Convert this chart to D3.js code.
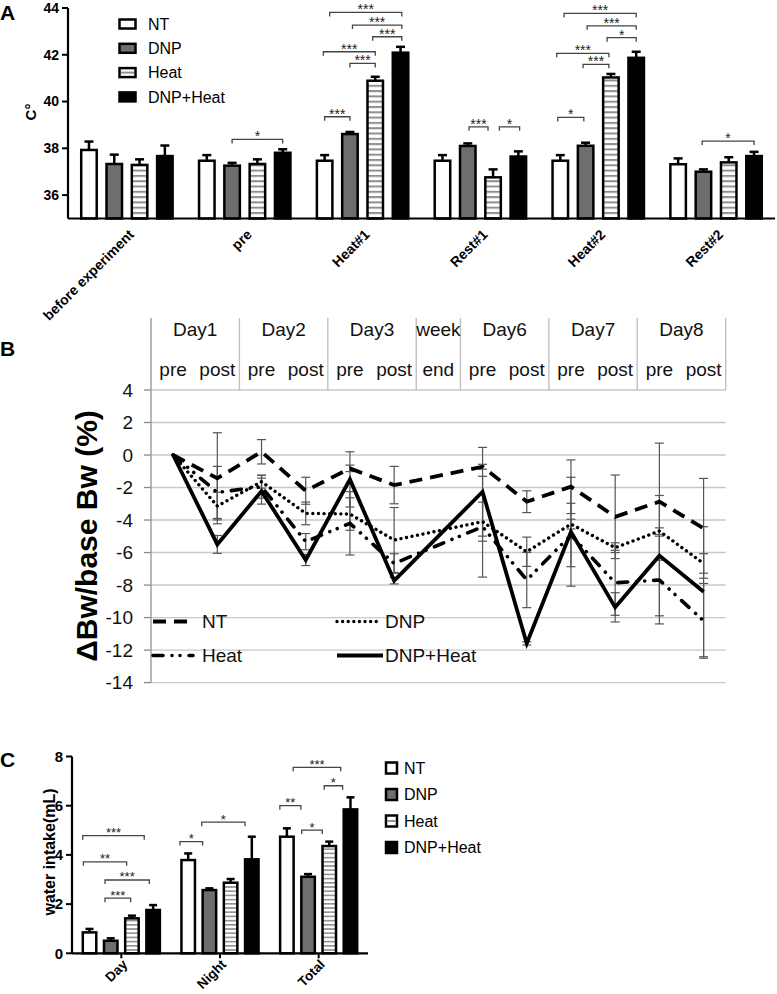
<!DOCTYPE html>
<html><head><meta charset="utf-8">
<script src="https://cdn.jsdelivr.net/npm/d3@7"></script>
<style>body{margin:0;background:#fff}svg{display:block}text{font-family:"Liberation Sans",Arial,sans-serif}</style>
</head><body><svg id="c" width="777" height="994"></svg>
<script>
// ---------- DATA ----------
const seriesNames = ["NT", "DNP", "Heat", "DNP+Heat"];

// Panel A: body temperature (C°)
const tempGroups = ["before experiment", "pre", "Heat#1", "Rest#1", "Heat#2", "Rest#2"];
const tempNT = [37.93, 37.47, 37.47, 37.47, 37.47, 37.32];
const tempNTErr = [0.36, 0.24, 0.24, 0.24, 0.24, 0.25];
const tempDNP = [37.33, 37.26, 38.61, 38.10, 38.11, 37.00];
const tempDNPErr = [0.4, 0.12, 0.09, 0.11, 0.13, 0.10];
const tempHeat = [37.29, 37.33, 40.89, 36.76, 41.03, 37.40];
const tempHeatErr = [0.24, 0.20, 0.17, 0.34, 0.15, 0.22];
const tempDH = [37.67, 37.81, 42.09, 37.65, 41.87, 37.67];
const tempDHErr = [0.45, 0.15, 0.25, 0.22, 0.26, 0.18];
const tempTicks = [36, 38, 40, 42, 44];
// significance brackets: group, from bar, to bar (bar index, fractional), level (C°), label
const tempSig = [
  {g: "pre", a: 1.0, b: 3.0, y: 38.38, t: "*"},
  {g: "Heat#1", a: 0.0, b: 1.0, y: 39.35, t: "***"},
  {g: "Heat#1", a: 1.0, b: 2.0, y: 41.63, t: "***"},
  {g: "Heat#1", a: -0.05, b: 2.0, y: 42.13, t: "***"},
  {g: "Heat#1", a: 1.9, b: 3.05, y: 42.77, t: "***"},
  {g: "Heat#1", a: 1.1, b: 3.05, y: 43.27, t: "***"},
  {g: "Heat#1", a: 0.2, b: 3.05, y: 43.81, t: "***"},
  {g: "Rest#1", a: 1.05, b: 1.8, y: 38.92, t: "***"},
  {g: "Rest#1", a: 2.25, b: 3.05, y: 38.92, t: "*"},
  {g: "Heat#2", a: -0.1, b: 0.93, y: 39.32, t: "*"},
  {g: "Heat#2", a: 0.9, b: 1.92, y: 41.59, t: "***"},
  {g: "Heat#2", a: -0.14, b: 1.92, y: 42.06, t: "***"},
  {g: "Heat#2", a: 1.85, b: 3.0, y: 42.73, t: "*"},
  {g: "Heat#2", a: 1.06, b: 3.0, y: 43.24, t: "***"},
  {g: "Heat#2", a: 0.15, b: 3.0, y: 43.77, t: "***"},
  {g: "Rest#2", a: 0.95, b: 3.0, y: 38.31, t: "*"}
];

// Panel B: body-weight change (%)
const dayLabels = ["Day1", "Day2", "Day3", "week", "Day6", "Day7", "Day8"];
const daySubLabels = [["pre", "post"], ["pre", "post"], ["pre", "post"], ["end"], ["pre", "post"], ["pre", "post"], ["pre", "post"]];
const bwSlot = [0, 1, 2, 3, 4, 5, 7, 8, 9, 10, 11, 12];
const bwNT = [0, -1.43, 0.2, -2.2, -0.82, -1.85, -0.72, -2.87, -1.95, -3.8, -2.87, -4.51];
const bwNTErr = [0, 2.8, 0.75, 0.83, 0.2, 1.15, 0.15, 0.67, 1.65, 2.57, 3.6, 3.07];
const bwDNP = [0, -3.14, -1.64, -3.59, -3.63, -5.23, -4.10, -5.95, -4.25, -5.70, -4.68, -6.67];
const bwDNPErr = [0, 0.85, 0.4, 0.7, 1.0, 2.0, 1.2, 0.9, 0.3, 0.3, 0.2, 0.6];
const bwHeat = [0, -2.3, -1.95, -5.33, -4.2, -6.67, -4.41, -7.69, -4.92, -7.86, -7.69, -10.2];
const bwHeatErr = [0, 1.6, 0.7, 0.5, 1.95, 0.6, 3.1, 1.7, 1.95, 2.0, 2.7, 2.3];
const bwDH = [0, -5.5, -2.22, -6.46, -1.5, -7.73, -2.26, -11.59, -4.72, -9.37, -6.19, -8.41];
const bwDHErr = [0, 0.55, 0.8, 0.34, 1.7, 0.2, 2.73, 0.1, 3.35, 0.9, 3.7, 4.0];
const bwTicks = [-14, -12, -10, -8, -6, -4, -2, 0, 2, 4];

// Panel C: water intake (mL)
const waterGroups = ["Day", "Night", "Total"];
const waterNT = [0.85, 3.79, 4.74];
const waterNTErr = [0.14, 0.27, 0.34];
const waterDNP = [0.51, 2.57, 3.11];
const waterDNPErr = [0.10, 0.07, 0.11];
const waterHeat = [1.42, 2.87, 4.36];
const waterHeatErr = [0.11, 0.15, 0.18];
const waterDH = [1.76, 3.82, 5.85];
const waterDHErr = [0.20, 0.92, 0.49];
const waterTicks = [0, 2, 4, 6, 8];
const waterSig = [
  {g: "Day", a: -0.32, b: 2.58, y: 4.78, t: "***"},
  {g: "Day", a: -0.29, b: 1.75, y: 3.72, t: "**"},
  {g: "Day", a: 0.73, b: 2.82, y: 2.98, t: "***"},
  {g: "Day", a: 0.73, b: 1.94, y: 2.24, t: "***"},
  {g: "Night", a: -0.39, b: 0.68, y: 4.54, t: "*"},
  {g: "Night", a: 0.64, b: 2.68, y: 5.33, t: "*"},
  {g: "Total", a: -0.33, b: 0.66, y: 6.0, t: "**"},
  {g: "Total", a: 0.3, b: 2.54, y: 7.56, t: "***"},
  {g: "Total", a: 1.76, b: 2.63, y: 6.81, t: "*"},
  {g: "Total", a: 0.7, b: 1.67, y: 5.01, t: "*"}
];

// ---------- DRAWING ----------
const svg = d3.select("#c");
const defs = svg.append("defs");
function stripes(id, h) {
  const p = defs.append("pattern").attr("id", id).attr("patternUnits", "userSpaceOnUse")
    .attr("width", 10).attr("height", h);
  p.append("rect").attr("width", 10).attr("height", h).attr("fill", "#fff");
  p.append("rect").attr("width", 10).attr("height", h * 0.38).attr("fill", "#8f8f8f");
}
stripes("stA", 5.3);
stripes("stC", 4.2);
const fillsA = ["#fff", "#6e6e6e", "url(#stA)", "#000"];
const fillsC = ["#fff", "#6e6e6e", "url(#stC)", "#000"];

function barPanel(g, o) {
  const x = d3.scaleBand().domain(o.groups).range(o.xr).padding(0);
  const y = d3.scaleLinear().domain(o.yd).range(o.yr);
  const cx = (gr, i) => x(gr) + x.bandwidth() / 2 + (i - 1.5) * o.step;
  // error bars
  o.series.forEach((vals, si) => {
    vals.forEach((v, gi) => {
      const c = cx(o.groups[gi], si), e = o.errs[si][gi];
      g.append("line").attr("x1", c).attr("x2", c).attr("y1", y(v)).attr("y2", y(v + e))
        .attr("stroke", "#000").attr("stroke-width", 2.5);
      g.append("line").attr("x1", c - o.cap).attr("x2", c + o.cap).attr("y1", y(v + e)).attr("y2", y(v + e))
        .attr("stroke", "#000").attr("stroke-width", 2.5);
    });
  });
  // bars
  o.series.forEach((vals, si) => {
    g.selectAll(null).data(vals).enter().append("rect")
      .attr("x", (v, gi) => cx(o.groups[gi], si) - o.bw / 2)
      .attr("y", v => y(v))
      .attr("width", o.bw)
      .attr("height", v => y(o.yd[0]) - y(v))
      .attr("fill", o.fills[si]).attr("stroke", "#000").attr("stroke-width", o.sw);
  });
  // axes
  g.append("line").attr("x1", o.xr[0]).attr("x2", o.xr[0]).attr("y1", y(o.yd[1])).attr("y2", y(o.yd[0]))
    .attr("stroke", "#000").attr("stroke-width", 2.2);
  g.append("line").attr("x1", o.xr[0]).attr("x2", o.xr[1]).attr("y1", y(o.yd[0])).attr("y2", y(o.yd[0]))
    .attr("stroke", "#000").attr("stroke-width", 2.2);
  o.ticks.forEach(t => {
    g.append("line").attr("x1", o.xr[0] - 6).attr("x2", o.xr[0]).attr("y1", y(t)).attr("y2", y(t))
      .attr("stroke", "#000").attr("stroke-width", 2);
    g.append("text").attr("x", o.xr[0] - 9).attr("y", y(t)).attr("dy", "0.35em")
      .attr("text-anchor", "end").attr("font-size", o.tickFs).attr("font-weight", "bold").text(t);
  });
  if (o.groupTicks) {
    o.groups.forEach(gr => {
      const c = x(gr) + x.bandwidth() / 2;
      g.append("line").attr("x1", c).attr("x2", c).attr("y1", y(o.yd[0])).attr("y2", y(o.yd[0]) + 5)
        .attr("stroke", "#000").attr("stroke-width", 2);
    });
  }
  o.groups.forEach(gr => {
    const c = x(gr) + x.bandwidth() / 2 + o.lblDx;
    g.append("text").attr("transform", `translate(${c},${y(o.yd[0]) + o.lblDy}) rotate(-45)`)
      .attr("text-anchor", "end").attr("font-size", o.lblFs).attr("font-weight", "bold").text(gr);
  });
  // significance
  o.sig.forEach(s => {
    const x1 = cx(s.g, s.a), x2 = cx(s.g, s.b), py = y(s.y);
    g.append("path").attr("d", `M${x1},${py + o.tick}V${py}H${x2}V${py + o.tick}`)
      .attr("fill", "none").attr("stroke", "#444").attr("stroke-width", 1.3);
    g.append("text").attr("x", (x1 + x2) / 2).attr("y", py + o.starDy).attr("text-anchor", "middle")
      .attr("font-size", o.starFs).attr("fill", "#222").text(s.t);
  });
  return {x, y};
}

// Panel A
const gA = svg.append("g");
barPanel(gA, {
  groups: tempGroups, xr: [68, 775], yd: [35, 44], yr: [218.5, 8],
  series: [tempNT, tempDNP, tempHeat, tempDH], errs: [tempNTErr, tempDNPErr, tempHeatErr, tempDHErr],
  fills: fillsA, step: 25.3, bw: 15.5, cap: 4.5, sw: 2.5, ticks: tempTicks, tickFs: 14,
  lblDx: 8, lblDy: 17, lblFs: 14, sig: tempSig, tick: 4, starDy: 2, starFs: 14, groupTicks: false
});
svg.append("text").attr("x", 0).attr("y", 20).attr("font-size", 21).attr("font-weight", "bold").text("A");
svg.append("text").attr("transform", "translate(36,112) rotate(-90)").attr("text-anchor", "middle")
  .attr("font-size", 15).attr("font-weight", "bold").text("C°");
// legend A
seriesNames.forEach((n, i) => {
  const yy = 24 + i * 24.3;
  svg.append("rect").attr("x", 119.5).attr("y", yy - 4.5).attr("width", 16).attr("height", 9)
    .attr("fill", i === 2 ? "#fff" : fillsA[i]).attr("stroke", "#000").attr("stroke-width", 2.5);
  if (i === 2) svg.append("line").attr("x1", 121).attr("x2", 134).attr("y1", yy).attr("y2", yy)
    .attr("stroke", "#8f8f8f").attr("stroke-width", 2);
  svg.append("text").attr("x", 148).attr("y", yy).attr("dy", "0.35em").attr("font-size", 16).text(n);
});

// Panel B
const gB = svg.append("g");
const xB = d3.scaleLinear().domain([0, 13]).range([151, 725.7]);
const yB = d3.scaleLinear().domain([-14, 4]).range([682.6, 390]);
bwTicks.forEach(t => {
  gB.append("line").attr("x1", 151).attr("x2", 725.7).attr("y1", yB(t)).attr("y2", yB(t))
    .attr("stroke", "#c8c8c8").attr("stroke-width", 1.4);
  gB.append("line").attr("x1", 144).attr("x2", 151).attr("y1", yB(t)).attr("y2", yB(t))
    .attr("stroke", "#8a8a8a").attr("stroke-width", 1.3);
  gB.append("text").attr("x", 133).attr("y", yB(t)).attr("dy", "0.36em").attr("text-anchor", "end")
    .attr("font-size", 19).attr("fill", "#111").text(t);
});
gB.append("line").attr("x1", 151).attr("x2", 151).attr("y1", 318).attr("y2", yB(-14))
  .attr("stroke", "#9a9a9a").attr("stroke-width", 1.4);
// header table
let slot = 0;
dayLabels.forEach((d, i) => {
  const span = daySubLabels[i].length;
  const x0 = xB(slot), x1 = xB(slot + span);
  gB.append("line").attr("x1", x1).attr("x2", x1).attr("y1", 318).attr("y2", 390)
    .attr("stroke", "#c0c0c0").attr("stroke-width", 1.4);
  gB.append("text").attr("x", (x0 + x1) / 2).attr("y", 329).attr("dy", "0.35em").attr("text-anchor", "middle")
    .attr("font-size", 19).attr("fill", "#111").text(d);
  daySubLabels[i].forEach((s, k) => {
    gB.append("text").attr("x", xB(slot + k + 0.5)).attr("y", 369).attr("dy", "0.35em").attr("text-anchor", "middle")
      .attr("font-size", 19).attr("fill", "#111").text(s);
  });
  slot += span;
});
const bwSeries = [bwNT, bwDNP, bwHeat, bwDH];
const bwErrs = [bwNTErr, bwDNPErr, bwHeatErr, bwDHErr];
const lineStyles = [
  {dash: "13,8", cap: "butt", w: 3.8},
  {dash: "0.01,5.6", cap: "round", w: 3.4},
  {dash: "10,9,0.01,8,0.01,9", cap: "round", w: 3.6},
  {dash: null, cap: "butt", w: 3.8}
];
// error bars
bwSeries.forEach((vals, si) => {
  vals.forEach((v, i) => {
    const e = bwErrs[si][i];
    if (!e) return;
    const cx = xB(bwSlot[i] + 0.5);
    gB.append("line").attr("x1", cx).attr("x2", cx).attr("y1", yB(v + e)).attr("y2", yB(v - e))
      .attr("stroke", "#555").attr("stroke-width", 1.2);
    [v + e, v - e].forEach(w => gB.append("line").attr("x1", cx - 4.5).attr("x2", cx + 4.5)
      .attr("y1", yB(w)).attr("y2", yB(w)).attr("stroke", "#555").attr("stroke-width", 1.2));
  });
});
const lineGen = d3.line().x((v, i) => xB(bwSlot[i] + 0.5)).y(v => yB(v));
bwSeries.forEach((vals, si) => {
  const st = lineStyles[si];
  gB.append("path").attr("d", lineGen(vals)).attr("fill", "none").attr("stroke", "#000")
    .attr("stroke-width", st.w).attr("stroke-linecap", st.cap).attr("stroke-linejoin", "miter")
    .attr("stroke-dasharray", st.dash);
});
// legend B
seriesNames.forEach((n, i) => {
  const lx = i % 2 === 0 ? 153 : 337, ly = i < 2 ? 621.5 : 655.5;
  const st = lineStyles[i];
  const len = i === 3 ? 46 : 40;
  gB.append("line").attr("x1", lx).attr("x2", lx + len).attr("y1", ly).attr("y2", ly)
    .attr("stroke", "#000").attr("stroke-width", st.w).attr("stroke-linecap", st.cap)
    .attr("stroke-dasharray", st.dash);
  gB.append("text").attr("x", i % 2 === 0 ? 202 : 385).attr("y", ly).attr("dy", "0.36em")
    .attr("font-size", 19).attr("fill", "#111").text(n);
});
svg.append("text").attr("transform", "translate(97,536) rotate(-90)").attr("text-anchor", "middle")
  .attr("font-size", 30).attr("font-weight", "bold").text("ΔBw/base Bw (%)");
svg.append("text").attr("x", 0).attr("y", 356).attr("font-size", 21).attr("font-weight", "bold").text("B");

// Panel C
const gC = svg.append("g");
barPanel(gC, {
  groups: waterGroups, xr: [72, 368], yd: [0, 8], yr: [953.3, 756.5],
  series: [waterNT, waterDNP, waterHeat, waterDH], errs: [waterNTErr, waterDNPErr, waterHeatErr, waterDHErr],
  fills: fillsC, step: 21.2, bw: 13.5, cap: 4, sw: 2.5, ticks: waterTicks, tickFs: 15,
  lblDx: 7, lblDy: 12, lblFs: 13.5, sig: waterSig, tick: 4, starDy: 1.5, starFs: 13, groupTicks: true
});
svg.append("text").attr("x", 0).attr("y", 767).attr("font-size", 21).attr("font-weight", "bold").text("C");
svg.append("text").attr("transform", "translate(55,852) rotate(-90)").attr("text-anchor", "middle")
  .attr("font-size", 16).attr("font-weight", "bold").text("water intake(mL)");
seriesNames.forEach((n, i) => {
  const yy = 768 + i * 26.5;
  svg.append("rect").attr("x", 386).attr("y", yy - 5.5).attr("width", 11).attr("height", 11)
    .attr("fill", i === 2 ? "#fff" : fillsC[i]).attr("stroke", "#000").attr("stroke-width", 2.5);
  if (i === 2) svg.append("line").attr("x1", 387.5).attr("x2", 395.5).attr("y1", yy).attr("y2", yy)
    .attr("stroke", "#8f8f8f").attr("stroke-width", 2);
  svg.append("text").attr("x", 404).attr("y", yy).attr("dy", "0.36em").attr("font-size", 16).text(n);
});
</script>
</body></html>
